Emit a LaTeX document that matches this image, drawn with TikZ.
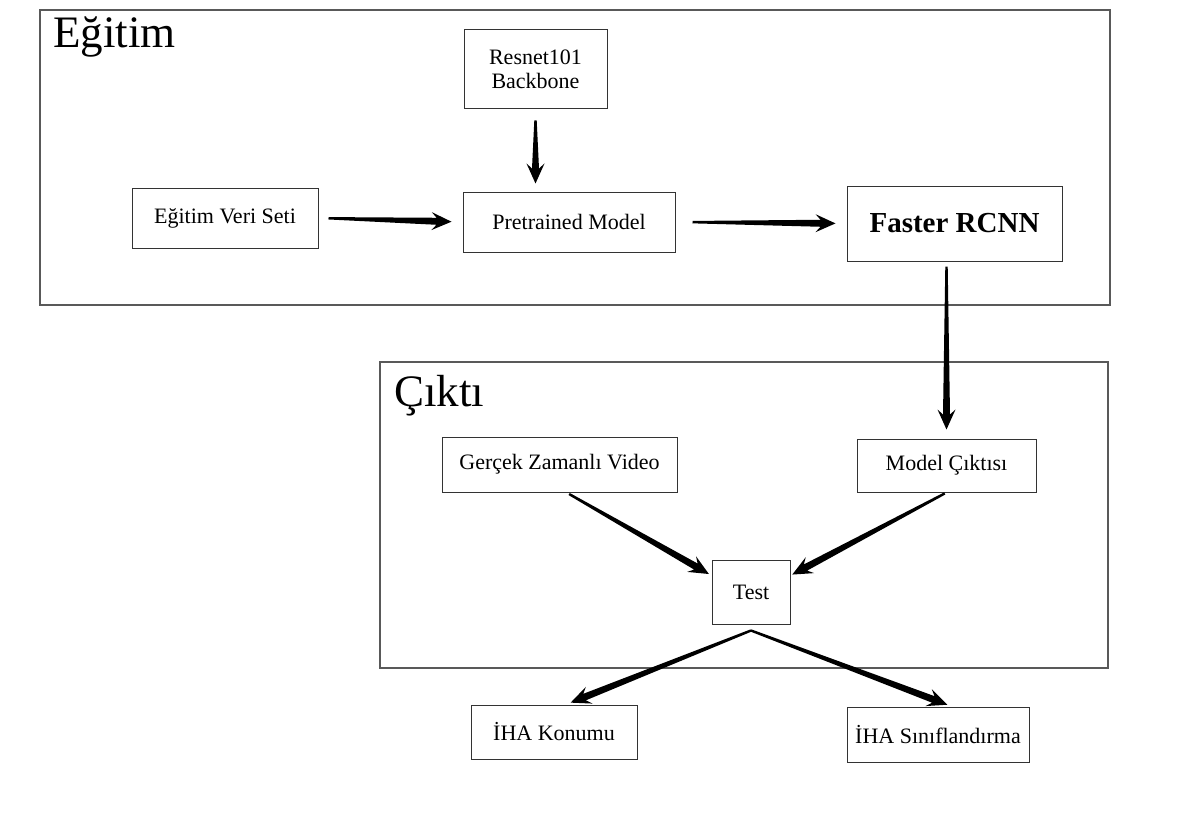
\documentclass[tikz,border=0pt]{standalone}
\usepackage{fontspec}
\setmainfont{Liberation Serif}
\usetikzlibrary{calc}

% sivri ok: #1 baslangic, #2 bitis, #3 bastan kisaltma, #4 sondan kisaltma
\newcommand{\sivriok}[4]{%
  \path ($#1!#3!#2$) coordinate (s) ($#2!#4!#1$) coordinate (e)
    ($(e)!20pt!(s)$) coordinate (h) ($(e)!15pt!(s)$) coordinate (g);
  \fill[black] ($(s)!1.2pt!90:(e)$) -- ($(g)!3.5pt!-90:(s)$) -- ($(h)!9pt!-90:(s)$)
    -- (e) -- ($(h)!9pt!90:(s)$) -- ($(g)!3.5pt!90:(s)$) -- ($(s)!1.2pt!-90:(e)$) -- cycle;
}

\begin{document}
\begin{tikzpicture}[x=1pt,y=-1pt,
  kutu/.style={draw=black!80, line width=1pt, inner sep=0pt, align=center,
    font=\fontsize{22}{24}\selectfont},
  cerceve/.style={draw=black!65, line width=1.4pt},
  baslik/.style={anchor=base west, inner sep=0pt, font=\fontsize{45}{50}\selectfont}]
  \useasboundingbox (0,0) rectangle (1194,832);
  % cerceveler
  \draw[cerceve] (40,10) rectangle (1110,305);
  \draw[cerceve] (380,362) rectangle (1108,668);
  \node[baslik] (egitim) at (53,48) {Eğitim};
  \node[baslik] (cikti) at (394,406) {Çıktı};
  % kutular
  \node[kutu, minimum width=143, minimum height=79] (resnet) at (535.5,69.5) {Resnet101\\Backbone};
  \node[kutu, minimum width=186, minimum height=60] (veri) at (225,218) {Eğitim Veri Seti};
  \node[kutu, minimum width=212, minimum height=60] (pre) at (569,222) {Pretrained Model};
  \node[kutu, minimum width=215, minimum height=75, font=\fontsize{29}{32}\selectfont\bfseries] (faster) at (954.5,223.5) {Faster RCNN};
  \node[kutu, minimum width=235, minimum height=55] (gercek) at (559.5,464.5) {Gerçek Zamanlı Video};
  \node[kutu, minimum width=179, minimum height=53] (model) at (946.5,465.5) {Model Çıktısı};
  \node[kutu, minimum width=78, minimum height=64] (test) at (751,592) {Test};
  \node[kutu, minimum width=166, minimum height=54] (konum) at (554,732) {İHA Konumu};
  \node[kutu, minimum width=182, minimum height=55] (sinif) at (938,734.5) {İHA Sınıflandırma};
  \coordinate (ayrim) at ([yshift=-6pt]test.south);
  % oklar
  \sivriok{(veri.east)}{(pre.west)}{10pt}{11pt}
  \sivriok{(resnet.south)}{(resnet.south |- pre.north)}{11pt}{8pt}
  \sivriok{(pre.east)}{(faster.west)}{17pt}{11pt}
  \sivriok{(model.north |- faster.south)}{(model.north)}{5pt}{9pt}
  \sivriok{([xshift=7pt]gercek.south)}{([yshift=-16pt]test.north west)}{3pt}{3pt}
  \sivriok{(model.south)}{([yshift=-16pt]test.north east)}{2pt}{2pt}
  \sivriok{(ayrim)}{([xshift=12pt]konum.north)}{0pt}{5pt}
  \sivriok{(ayrim)}{([xshift=14pt]sinif.north)}{0pt}{5pt}
\end{tikzpicture}
\end{document}
